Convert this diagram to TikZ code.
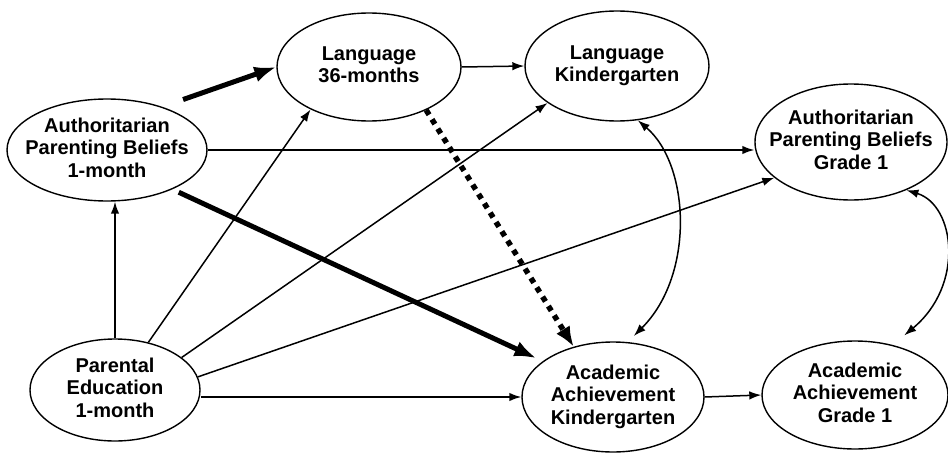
\documentclass[tikz,border=0pt]{standalone}
\usepackage{fontspec}
\setmainfont{Liberation Sans}
\usetikzlibrary{shapes.geometric,arrows.meta}
\newcommand{\ovaltext}[1]{\makebox[0pt]{\begin{tabular}{@{}c@{}}#1\end{tabular}}}

\begin{document}
\begin{tikzpicture}[x=1pt,y=-1pt,
    var/.style={ellipse,draw,line width=1.4pt,inner sep=0pt,font=\fontsize{20}{22.5}\selectfont\bfseries},
    eff/.style={line width=1.5pt,-{Latex[length=12pt,width=8.5pt]}},
    bigeff/.style={line width=5pt,-{Latex[length=22pt,width=16pt]}},
    dotteff/.style={line width=5.5pt,dash pattern=on 5.5pt off 5.5pt,-{Latex[length=20pt,width=16pt]}},
    cov/.style={line width=1.5pt,{Latex[length=12pt,width=8.5pt]}-{Latex[length=12pt,width=8.5pt]}}]
        \path[fill=white,use as bounding box] (0,0) rectangle (948,455);
        \node[var,minimum width=200pt,minimum height=102pt](apbA) at (107,150) {\ovaltext{Authoritarian\\Parenting Beliefs\\1-month}};   % beliefs 1
        \node[var,minimum width=184pt,minimum height=108pt](lang36) at (369,67) {\ovaltext{Language\\36-months}};
        \node[var,minimum width=184pt,minimum height=110pt](langK) at (617,66) {\ovaltext{Language\\Kindergarten}};
        \node[var,minimum width=192pt,minimum height=116pt](apbG) at (851,142) {\ovaltext{Authoritarian\\Parenting Beliefs\\Grade 1}};  % beliefs 2
        \node[var,minimum width=170pt,minimum height=102pt](pedu) at (115,390) {\ovaltext{Parental\\Education\\1-month}};
        \node[var,minimum width=182pt,minimum height=110pt](acadK) at (613,397) {\ovaltext{Academic\\Achievement\\Kindergarten}};
        \node[var,minimum width=186pt,minimum height=108pt](acadG) at (855,395) {\ovaltext{Academic\\Achievement\\Grade 1}};

        \draw[bigeff,shorten <=22pt] (apbA.38) -- (lang36.west);                   % strong paths
        \draw[bigeff,shorten <=7pt,shorten >=7pt] (apbA.-31) -- (acadK.153);
        \draw[dotteff] (lang36.-37) -- (acadK.128);
        \draw[eff] (apbA.east) -- (apbA.east -| apbG.west);
        \draw[eff] (lang36.east) -- (langK.west);
        \draw[eff] (pedu.north) -- (pedu.north |- apbA.south);                        % education
        \draw[eff] (pedu.55) -- (lang36.-144);
        \draw[eff] (pedu.26) -- (langK.-152);
        \draw[eff] (pedu.9) -- (apbG.-155);
        \draw[eff] (pedu.east |- acadK.west) -- (acadK.west);
        \draw[eff] (acadK.east) -- (acadG.west);
        \draw[cov,shorten >=8.6pt] (langK.-69) .. controls (690,165) and (695,275) .. (acadK.75);   % covariances
        \draw[cov,shorten >=15pt] (apbG.-41) .. controls (955,205) and (965,285) .. (acadG.53);
    \end{tikzpicture}
\end{document}
